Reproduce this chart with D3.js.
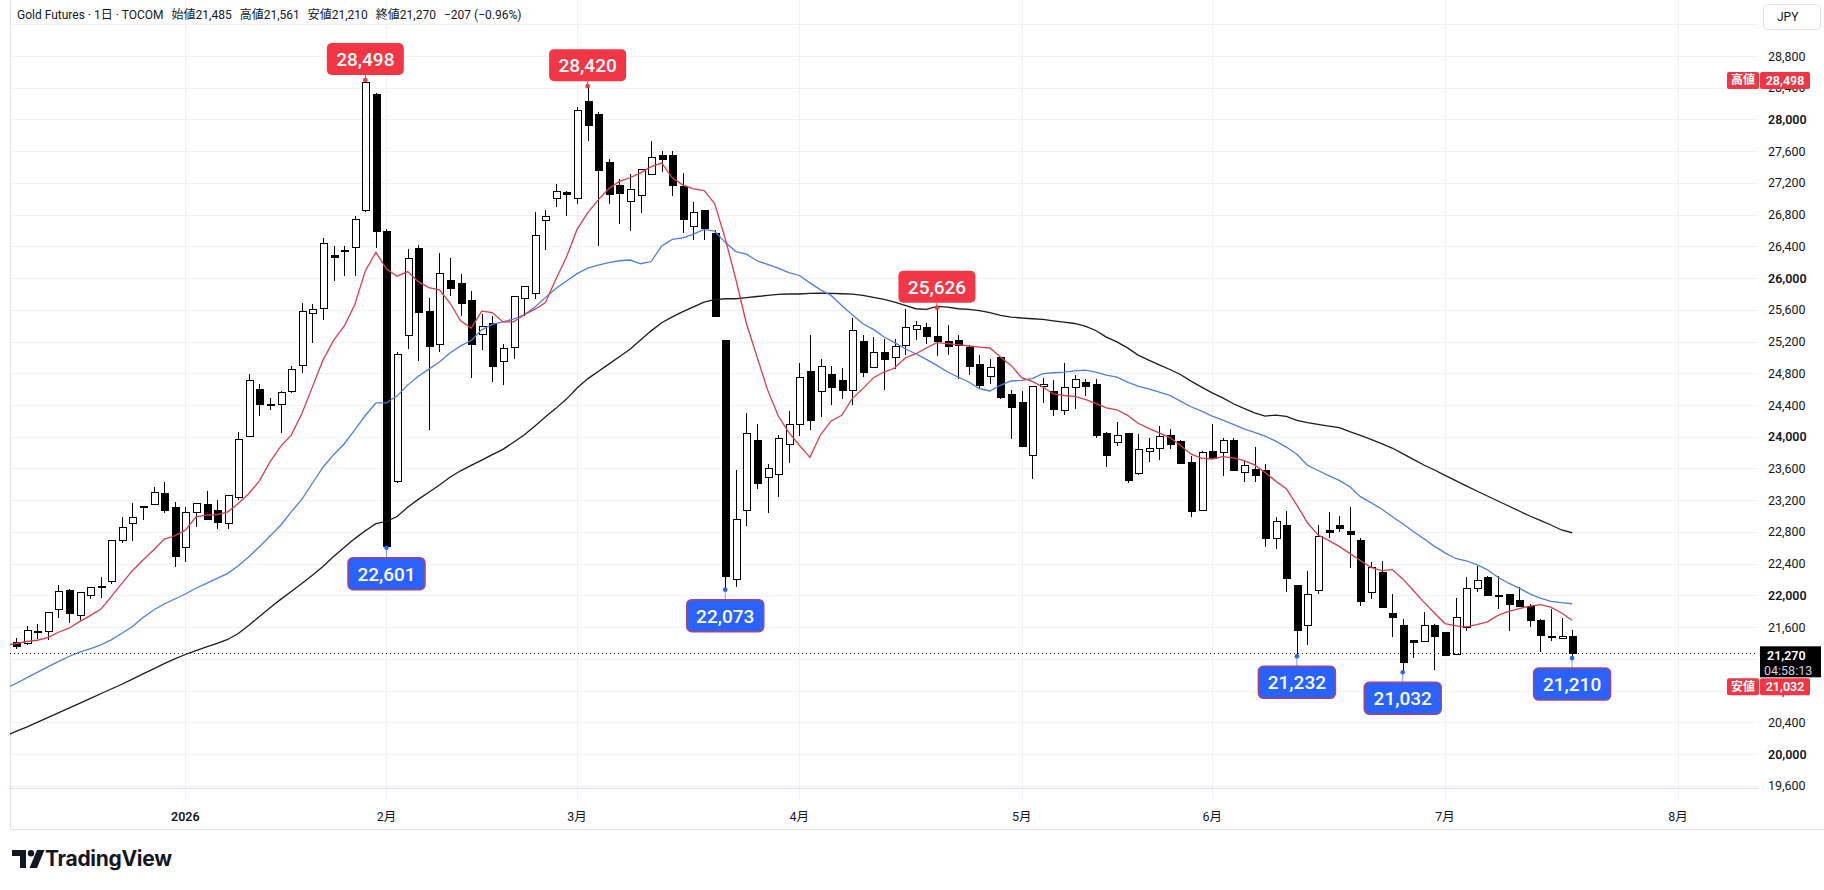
<!DOCTYPE html>
<html>
<head>
<meta charset="utf-8">
<script src="https://cdn.jsdelivr.net/npm/d3@7"></script>
<style>
  html, body { margin: 0; padding: 0; background: #fff; }
  svg { display: block; font-family: Roboto, "Noto Sans CJK JP", "Noto Sans", sans-serif; }
</style>
</head>
<body>
<svg id="chart"></svg>
<script>
// daily bars, index 0 = first visible session (mid Dec 2025), 147 = last (17 Jul)
const opens = [
  21406, 21394, 21530, 21544, 21825, 22064, 21742, 21993, 22100, 22173,
  22689, 22903, 23120, 23150, 23280, 23104, 22601, 23041, 23142, 23067,
  22903, 23230, 24006, 24601, 24410, 24403, 24570, 24894, 25560, 25623,
  26280, 26340, 26392, 26851, 28309, 26586, 23436, 25281, 26370, 25573,
  25168, 25965, 25938, 25722, 25294, 25429, 24943, 25119, 25740, 25812,
  26721, 27000, 27080, 27000, 28228, 28065, 27460, 27163, 26963, 27047,
  27307, 27544, 27544, 27149, 26656, 26847, 26568, 25219, 22205, 23065,
  23949, 23484, 23521, 23902, 24149, 24823, 24565, 24779, 24703, 24577,
  25207, 24879, 25056, 25005, 25152, 25349, 25383, 25270, 25207, 25211,
  25131, 24917, 24766, 24993, 24531, 24430, 23767, 24628, 24565, 24334,
  24615, 24682, 24659, 24042, 23933, 24042, 23538, 23819, 23853, 24021,
  23945, 23672, 23072, 23819, 23798, 23954, 23546, 23588, 23580, 22719,
  22887, 22131, 21627, 22064, 22824, 22887, 22800, 22690, 22041, 22283,
  21770, 21616, 21436, 21424, 21624, 21528, 21249, 21591, 22091, 22229,
  22005, 22008, 21937, 21866, 21678, 21482, 21457, 21485
];
const highs = [
  21469, 21616, 21645, 21790, 22127, 22077, 22048, 22110, 22236, 22695,
  22991, 23167, 23125, 23368, 23431, 23180, 23117, 23160, 23318, 23209,
  23260, 24060, 24790, 24668, 24488, 24583, 24889, 25686, 25672, 26509,
  26406, 26406, 26788, 28498, 28332, 26617, 25069, 26361, 26420, 25753,
  26316, 26257, 26055, 25839, 25551, 25528, 25168, 25770, 25895, 26833,
  26856, 27181, 27102, 28158, 28420, 28098, 27507, 27251, 27312, 27370,
  27726, 27600, 27600, 27326, 26958, 26861, 26605, 25225, 23577, 24302,
  24163, 23651, 24024, 24321, 24930, 25288, 24985, 24892, 24871, 25496,
  25278, 25257, 25236, 25228, 25614, 25463, 25438, 25626, 25404, 25287,
  25152, 25026, 24984, 24995, 24586, 24577, 24640, 24745, 24712, 24930,
  24774, 24724, 24722, 24059, 24189, 24050, 24038, 23987, 24134, 24092,
  23958, 23756, 23819, 24164, 23979, 23979, 23693, 23870, 23660, 22992,
  23063, 22135, 22307, 22887, 23051, 23000, 23114, 22720, 22425, 22429,
  22020, 21707, 21440, 21791, 21645, 21530, 21966, 22229, 22366, 22241,
  22241, 22010, 22104, 21895, 21707, 21833, 21716, 21561
];
const lows = [
  21326, 21380, 21452, 21440, 21721, 21658, 21691, 21955, 21964, 22144,
  22664, 22685, 22949, 23138, 23033, 22358, 22425, 22865, 22949, 22836,
  22836, 23201, 23998, 24257, 24333, 24043, 24548, 24808, 25177, 25474,
  25965, 26032, 26032, 26835, 26383, 22601, 23420, 25110, 24952, 24088,
  25065, 25776, 25528, 24741, 25092, 24696, 24651, 24979, 25519, 25731,
  26352, 26902, 26777, 26940, 27730, 26405, 26940, 26684, 26600, 26823,
  27298, 27335, 27033, 26568, 26484, 26484, 25510, 22073, 22110, 22870,
  23344, 23033, 23242, 23670, 24009, 24079, 24246, 24397, 24481, 24397,
  24753, 24870, 24594, 24850, 25026, 25215, 25173, 25014, 25026, 24733,
  24783, 24607, 24670, 24481, 23969, 23875, 23473, 24430, 24262, 24271,
  24346, 24514, 23987, 23622, 23882, 23420, 23517, 23681, 23702, 23849,
  23660, 22988, 23065, 23720, 23504, 23575, 23429, 23429, 22610, 22580,
  22043, 21232, 21371, 22013, 22727, 22803, 22341, 21870, 21958, 21850,
  21478, 21032, 21207, 21407, 21061, 21235, 21245, 21549, 22049, 21995,
  21824, 21549, 21860, 21603, 21290, 21424, 21455, 21210
];
const closes = [
  21356, 21557, 21550, 21784, 22048, 21767, 22035, 22106, 22115, 22689,
  22853, 22979, 23105, 23293, 23075, 22496, 23041, 23155, 22962, 22916,
  23255, 23960, 24710, 24408, 24400, 24552, 24849, 25573, 25609, 26442,
  26265, 26350, 26743, 28470, 26586, 22620, 25042, 26253, 25564, 25132,
  26064, 25875, 25686, 25168, 25393, 24885, 25114, 25762, 25888, 26532,
  26779, 27098, 27055, 28112, 27921, 27358, 27056, 27065, 27112, 27363,
  27521, 27493, 27167, 26740, 26833, 26623, 25521, 22242, 22963, 24047,
  23409, 23600, 23977, 24158, 24744, 24209, 24892, 24623, 24586, 25345,
  24812, 25056, 24976, 25144, 25383, 25404, 25270, 25207, 25144, 25152,
  24892, 24649, 24867, 24489, 24363, 23881, 24636, 24657, 24346, 24615,
  24716, 24636, 24010, 23769, 24021, 23450, 23840, 23853, 24008, 23903,
  23664, 23055, 23798, 23727, 23958, 23580, 23639, 23517, 22719, 22937,
  22215, 21564, 22013, 22748, 22795, 22845, 22765, 21920, 22354, 21853,
  21716, 21153, 21407, 21624, 21478, 21240, 21716, 22083, 22183, 21999,
  21985, 21887, 21862, 21678, 21491, 21470, 21477, 21270
];

// moving averages, first value belongs to bar -1 (off the left edge)
const maRed = [
  21370, 21394, 21419, 21435, 21469, 21536, 21587, 21670, 21746, 21825,
  21985, 22152, 22312, 22446, 22572, 22710, 22752, 22823, 22991, 23012,
  23020, 23054, 23159, 23285, 23444, 23683, 23880, 24021, 24291, 24629,
  24966, 25214, 25394, 25664, 26091, 26325, 26114, 26024, 26082, 25956,
  25880, 25853, 25686, 25461, 25371, 25583, 25565, 25448, 25448, 25538,
  25605, 25690, 25986, 26265, 26614, 26823, 26986, 27126, 27219, 27265,
  27326, 27405, 27451, 27265, 27172, 27126, 27102, 26940, 26498, 25986,
  25428, 25009, 24591, 24265, 24056, 23893, 23740, 24025, 24199, 24271,
  24481, 24607, 24745, 24816, 24867, 24993, 25047, 25119, 25186, 25173,
  25161, 25144, 25131, 25119, 25005, 24900, 24745, 24699, 24628, 24540,
  24520, 24510, 24470, 24420, 24365, 24340, 24270, 24170, 24105, 24050,
  23990, 23890, 23780, 23730, 23720, 23750, 23735, 23698, 23645, 23550,
  23441, 23345, 23139, 22916, 22761, 22694, 22618, 22530, 22440, 22354,
  22312, 22325, 22208, 22062, 21916, 21779, 21645, 21616, 21603, 21632,
  21666, 21749, 21799, 21833, 21866, 21883, 21853, 21778, 21687
];
const maBlue = [
  20830, 20890, 20960, 21030, 21100, 21165, 21230, 21285, 21326, 21377,
  21440, 21524, 21607, 21721, 21817, 21892, 21955, 22018, 22090, 22152,
  22215, 22278, 22375, 22488, 22614, 22750, 22885, 23054, 23211, 23414,
  23616, 23774, 23909, 24088, 24268, 24426, 24426, 24516, 24651, 24763,
  24853, 24943, 25056, 25146, 25214, 25348, 25416, 25448, 25484, 25538,
  25632, 25754, 25870, 25963, 26056, 26126, 26163, 26195, 26219, 26228,
  26181, 26209, 26405, 26488, 26507, 26554, 26614, 26591, 26451, 26335,
  26302, 26219, 26172, 26126, 26070, 26033, 25940, 25852, 25782, 25656,
  25538, 25425, 25354, 25257, 25186, 25110, 25047, 24976, 24900, 24816,
  24753, 24690, 24606, 24577, 24649, 24703, 24712, 24733, 24795, 24807,
  24815, 24830, 24840, 24815, 24777, 24752, 24689, 24638, 24605, 24563,
  24521, 24449, 24378, 24323, 24260, 24210, 24155, 24100, 24055, 24008,
  23945, 23870, 23780, 23640, 23575, 23510, 23450, 23370, 23245, 23170,
  23090, 22995, 22903, 22806, 22714, 22618, 22536, 22466, 22437, 22387,
  22324, 22229, 22154, 22091, 22020, 21966, 21925, 21908, 21895
];
const maBlack = [
  20230, 20285, 20340, 20400, 20460, 20520, 20580, 20640, 20700, 20760,
  20820, 20880, 20945, 21010, 21075, 21140, 21200, 21255, 21305, 21350,
  21395, 21445, 21520, 21625, 21735, 21845, 21950, 22050, 22150, 22255,
  22365, 22491, 22603, 22716, 22815, 22905, 22932, 22995, 23112, 23211,
  23301, 23391, 23490, 23571, 23639, 23706, 23774, 23841, 23931, 24021,
  24134, 24250, 24358, 24475, 24614, 24730, 24823, 24916, 25009, 25102,
  25219, 25335, 25437, 25512, 25577, 25637, 25698, 25730, 25740, 25740,
  25754, 25768, 25782, 25795, 25800, 25800, 25808, 25811, 25807, 25803,
  25799, 25782, 25757, 25731, 25698, 25656, 25614, 25605, 25643, 25635,
  25614, 25605, 25589, 25564, 25530, 25509, 25497, 25488, 25480, 25462,
  25445, 25428, 25395, 25340, 25256, 25197, 25121, 25029, 24966, 24907,
  24848, 24785, 24701, 24626, 24554, 24491, 24416, 24357, 24302, 24260,
  24273, 24256, 24206, 24177, 24156, 24135, 24114, 24064, 24018, 23967,
  23913, 23858, 23787, 23715, 23644, 23581, 23514, 23447, 23380, 23316,
  23253, 23190, 23127, 23064, 23001, 22947, 22888, 22825, 22790
];

const priceTicks = [19600, 20000, 20400, 20800, 21200, 21600, 22000, 22400, 22800, 23200,
  23600, 24000, 24400, 24800, 25200, 25600, 26000, 26400, 26800, 27200, 27600, 28000,
  28400, 28800, 29200];
const monthBars = [16, 35, 53, 74, 95, 113, 135, 157];
const monthLabels = ['2026', '2月', '3月', '4月', '5月', '6月', '7月', '8月'];

const headerParts = ['Gold Futures · 1日 · TOCOM', '始値21,485', '高値21,561', '安値21,210', '終値21,270', '−207 (−0.96%)'];

const peakBars = [33, 54, 87];
const troughBars = [35, 67, 121, 131, 147];
const lastPrice = 21270;
const rangeHigh = 28498;
const rangeLow = 21032;

class CandleChart {

  constructor(config, data) {
    this.config = {
      parent: config.parent,
      width: config.width || 1824,
      height: config.height || 890,
      plot: config.plot || {left: 10, right: 1758, top: 0, bottom: 788},
    };
    this.data = data;
    this.init();
  }

  init() {
    let self = this;
    const p = self.config.plot;

    self.svg = d3.select(self.config.parent)
      .attr('width', self.config.width)
      .attr('height', self.config.height);

    self.x = d3.scaleLinear().domain([0, 147]).range([16, 1572.1]);
    self.y = d3.scaleLinear().domain([19600, 28800]).range([785.8, 56]);

    self.svg.append('defs').append('clipPath').attr('id', 'plotclip')
      .append('rect')
      .attr('x', p.left).attr('y', p.top)
      .attr('width', p.right - p.left).attr('height', p.bottom - p.top);

    self.grid = self.svg.append('g');
    self.plot = self.svg.append('g').attr('clip-path', 'url(#plotclip)');
    self.axes = self.svg.append('g');
    self.marks = self.svg.append('g');
  }

  render() {
    let self = this;
    const p = self.config.plot;
    const x = self.x, y = self.y;
    const d = self.data;
    const fmt = d3.format(',');

    // grid
    self.grid.selectAll('.hgrid').data(priceTicks).enter().append('line')
      .attr('x1', p.left).attr('x2', p.right)
      .attr('y1', v => Math.round(y(v)) + 0.5).attr('y2', v => Math.round(y(v)) + 0.5)
      .attr('stroke', '#f0f2f6');
    self.grid.selectAll('.vgrid').data(monthBars).enter().append('line')
      .attr('x1', b => Math.round(x(b)) + 0.5).attr('x2', b => Math.round(x(b)) + 0.5)
      .attr('y1', 0).attr('y2', p.bottom + 13)
      .attr('stroke', '#f0f2f6');

    // frame
    self.grid.append('line').attr('x1', p.left + 0.5).attr('x2', p.left + 0.5)
      .attr('y1', 0).attr('y2', 829).attr('stroke', '#e0e3eb');
    self.grid.append('line').attr('x1', p.left).attr('x2', p.right)
      .attr('y1', p.bottom + 0.5).attr('y2', p.bottom + 0.5).attr('stroke', '#e0e3eb');
    self.grid.append('line').attr('x1', p.left).attr('x2', self.config.width)
      .attr('y1', 829.5).attr('y2', 829.5).attr('stroke', '#e0e3eb');

    // candles
    const idx = d3.range(d.open.length);
    self.plot.selectAll('.wick').data(idx).enter().append('line')
      .attr('x1', i => Math.round(x(i)) + 0.5).attr('x2', i => Math.round(x(i)) + 0.5)
      .attr('y1', i => y(d.high[i])).attr('y2', i => y(d.low[i]))
      .attr('stroke', '#000').attr('stroke-width', 1)
      .attr('shape-rendering', 'crispEdges');

    self.plot.selectAll('.body').data(idx).enter().append('rect')
      .attr('x', i => Math.round(x(i)) - 3)
      .attr('y', i => y(Math.max(d.open[i], d.close[i])))
      .attr('width', 7)
      .attr('height', i => Math.max(1, Math.abs(y(d.open[i]) - y(d.close[i]))))
      .attr('fill', i => d.close[i] >= d.open[i] ? '#fff' : '#000')
      .attr('stroke', '#000').attr('stroke-width', 1)
      .attr('shape-rendering', 'crispEdges');

    // moving averages
    const line = d3.line().x((v, k) => x(k - 1)).y(v => y(v));
    [[d.maBlack, '#1c1c1c'], [d.maBlue, '#4f7fdc'], [d.maRed, '#d6404c']].forEach(([s, c]) => {
      self.plot.append('path').datum(s)
        .attr('d', line)
        .attr('fill', 'none').attr('stroke', c).attr('stroke-width', 1.3);
    });

    // last price line
    self.plot.append('line')
      .attr('x1', p.left).attr('x2', p.right)
      .attr('y1', Math.round(y(lastPrice)) + 0.5).attr('y2', Math.round(y(lastPrice)) + 0.5)
      .attr('stroke', '#131722').attr('stroke-dasharray', '1 3');

    // price axis
    self.axes.selectAll('.plab').data(priceTicks.filter(v => v <= 28800)).enter().append('text')
      .attr('x', 1768).attr('y', v => y(v))
      .attr('dominant-baseline', 'central')
      .style('font-size', '12.5px')
      .style('font-weight', v => v % 2000 === 0 ? 600 : 400)
      .attr('fill', '#131722')
      .text(v => fmt(v));

    // time axis
    self.axes.selectAll('.tlab').data(monthBars).enter().append('text')
      .attr('x', b => x(b)).attr('y', 816)
      .attr('text-anchor', 'middle').attr('dominant-baseline', 'central')
      .style('font-size', '12.5px')
      .style('font-weight', (b, k) => k === 0 ? 600 : 400)
      .attr('fill', '#131722')
      .text((b, k) => monthLabels[k]);

    // JPY box
    self.axes.append('rect').attr('x', 1763.5).attr('y', 4.5).attr('width', 57).attr('height', 25)
      .attr('rx', 4).attr('fill', '#fff').attr('stroke', '#e0e3eb');
    self.axes.append('text').attr('x', 1777).attr('y', 17).attr('dominant-baseline', 'central')
      .style('font-size', '12px').attr('fill', '#131722').text('JPY');

    // high / low axis tags
    const tag = (yc, word, val) => {
      self.axes.append('rect').attr('x', 1727).attr('y', yc - 8).attr('width', 32).attr('height', 17)
        .attr('rx', 2).attr('fill', '#f23645');
      self.axes.append('rect').attr('x', 1760).attr('y', yc - 8).attr('width', 50).attr('height', 17)
        .attr('rx', 2).attr('fill', '#f23645');
      self.axes.append('text').attr('x', 1743).attr('y', yc + 0.5).attr('text-anchor', 'middle')
        .attr('dominant-baseline', 'central').style('font-size', '12px').style('font-weight', 600)
        .attr('fill', '#fff').text(word);
      self.axes.append('text').attr('x', 1785).attr('y', yc + 0.5).attr('text-anchor', 'middle')
        .attr('dominant-baseline', 'central').style('font-size', '12.5px').style('font-weight', 600)
        .attr('fill', '#fff').text(fmt(val));
    };
    tag(y(rangeHigh), '高値', rangeHigh);

    const ly = y(lastPrice);
    self.axes.append('rect').attr('x', 1760).attr('y', ly - 7).attr('width', 61).attr('height', 31)
      .attr('fill', '#000');
    self.axes.append('text').attr('x', 1767).attr('y', ly + 2).attr('dominant-baseline', 'central')
      .style('font-size', '12.5px').style('font-weight', 600).attr('fill', '#fff').text(fmt(lastPrice));
    self.axes.append('text').attr('x', 1764).attr('y', ly + 17).attr('dominant-baseline', 'central')
      .style('font-size', '12.5px').attr('fill', '#d1d4dc').text('04:58:13');

    tag(ly + 33, '安値', rangeLow);

    // peak / trough callouts
    const box = (cx, top, val, fill, stroke) => {
      self.marks.append('rect').attr('x', cx - 38.5).attr('y', top).attr('width', 77).attr('height', 32)
        .attr('rx', 5).attr('fill', fill)
        .attr('stroke', stroke || 'none').attr('stroke-width', 1.5);
      self.marks.append('text').attr('x', cx).attr('y', top + 16.5)
        .attr('text-anchor', 'middle').attr('dominant-baseline', 'central')
        .style('font-size', '19px').style('font-weight', 500)
        .attr('fill', '#fff').text(fmt(val));
    };
    peakBars.forEach(b => {
      const cx = x(b), cy = y(d.high[b]);
      self.marks.append('line').attr('x1', cx).attr('x2', cx).attr('y1', cy).attr('y2', cy - 5)
        .attr('stroke', '#f23645');
      self.marks.append('circle').attr('cx', cx).attr('cy', cy).attr('r', 2.3).attr('fill', '#f23645');
      box(cx, cy - 37, d.high[b], '#f23645');
    });
    troughBars.forEach(b => {
      const cx = x(b), cy = y(d.low[b]);
      self.marks.append('line').attr('x1', cx).attr('x2', cx).attr('y1', cy).attr('y2', cy + 10)
        .attr('stroke', '#7f9cf5');
      self.marks.append('circle').attr('cx', cx).attr('cy', cy).attr('r', 2.3).attr('fill', '#2962ff');
      box(cx, cy + 10, d.low[b], '#2962ff', '#a8457d');
    });

    // legend header
    const head = self.svg.append('text').attr('x', 17).attr('y', 15).attr('dominant-baseline', 'central')
      .style('font-size', '12px').attr('fill', '#131722');
    headerParts.forEach((t, k) => head.append('tspan').attr('dx', k === 0 ? 0 : 8).text(t));

    // logo
    const logo = self.svg.append('g').attr('transform', 'translate(12,850)').attr('fill', '#131722');
    logo.append('path').attr('d', 'M0 0 H14 V18 H8 V6 H0 Z');
    logo.append('circle').attr('cx', 19).attr('cy', 3.2).attr('r', 3.2);
    logo.append('path').attr('d', 'M25 0 H32.5 L25 18 H17.5 Z');
    self.svg.append('text').attr('x', 45).attr('y', 866)
      .style('font-family', 'Inter, Roboto, sans-serif')
      .style('font-size', '21px').style('font-weight', 700).style('letter-spacing', '-0.3px')
      .attr('fill', '#131722').text('TradingView');
  }
}

const chart = new CandleChart({parent: '#chart', width: 1824, height: 890}, {
  open: opens, high: highs, low: lows, close: closes,
  maRed: maRed, maBlue: maBlue, maBlack: maBlack,
});
chart.render();
</script>
</body>
</html>
